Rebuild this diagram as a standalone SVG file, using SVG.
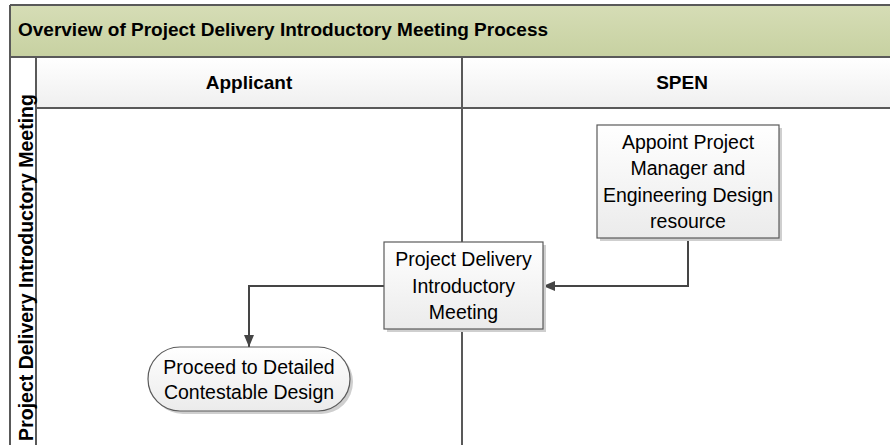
<svg xmlns="http://www.w3.org/2000/svg" width="890" height="445" viewBox="0 0 890 445">
<style>
.hdr{font-family:"Liberation Sans",Arial,sans-serif;font-weight:bold;fill:#000;}
.lbl{font-family:"Liberation Sans",Arial,sans-serif;font-size:19.5px;fill:#000;text-anchor:middle;}
.box{fill:url(#boxg);stroke:#5a5a5a;stroke-width:1.2;}
.shd{fill:#cfcfcf;}
.frame{stroke:#595959;stroke-width:2;fill:none;}
.conn{stroke:#454545;stroke-width:2;fill:none;}
</style>
<defs>
<linearGradient id="titleg" x1="0" y1="0" x2="0" y2="1">
<stop offset="0" stop-color="#d6ddb6"/>
<stop offset="1" stop-color="#c7d1a1"/>
</linearGradient>
<linearGradient id="headg" x1="0" y1="0" x2="0" y2="1">
<stop offset="0" stop-color="#ffffff"/>
<stop offset="1" stop-color="#efefef"/>
</linearGradient>
<linearGradient id="boxg" x1="0" y1="0" x2="0" y2="1">
<stop offset="0" stop-color="#ffffff"/>
<stop offset="1" stop-color="#ebebeb"/>
</linearGradient>
<marker id="arr" viewBox="0 0 12 10" refX="12" refY="5" markerWidth="12" markerHeight="10" markerUnits="userSpaceOnUse" orient="auto">
<path d="M0,0 L12,5 L0,10 Z" fill="#454545"/>
</marker>
</defs>

<g id="pool">
<rect x="0" y="0" width="890" height="445" fill="#ffffff"/>
<rect x="10" y="5" width="900" height="52" fill="url(#titleg)"/>
<rect x="36" y="57" width="870" height="51" fill="url(#headg)"/>
<rect x="10" y="57" width="26" height="400" fill="#ffffff"/>
<line class="frame" x1="10" y1="5" x2="900" y2="5"/>
<line class="frame" x1="10" y1="57" x2="900" y2="57"/>
<line class="frame" x1="36" y1="108" x2="900" y2="108" stroke="#6e6e6e"/>
<line class="frame" x1="10" y1="5" x2="10" y2="450"/>
<line class="frame" x1="36" y1="57" x2="36" y2="450" stroke="#6e6e6e"/>
<line class="frame" x1="462" y1="57" x2="462" y2="450"/>
<text class="hdr" x="18" y="36" font-size="19px">Overview of Project Delivery Introductory Meeting Process</text>
<text class="hdr" x="249" y="89" font-size="19px" text-anchor="middle">Applicant</text>
<text class="hdr" x="682" y="89" font-size="19px" text-anchor="middle">SPEN</text>
<text class="hdr" font-size="19.5px" text-anchor="middle" transform="translate(32.5,267.5) rotate(-90)">Project Delivery Introductory Meeting</text>
</g>

<g id="connectors">
<polyline class="conn" points="688,238 688,286 543,286" marker-end="url(#arr)"/>
<polyline class="conn" points="384,286 249,286 249,347" marker-end="url(#arr)"/>
</g>

<g id="appoint">
<rect class="shd" x="600" y="128" width="182" height="113"/>
<rect class="box" x="597" y="125" width="182" height="113"/>
<text class="lbl" x="688" y="149">Appoint Project</text>
<text class="lbl" x="688" y="175">Manager and</text>
<text class="lbl" x="688" y="202">Engineering Design</text>
<text class="lbl" x="688" y="228">resource</text>
</g>

<g id="pdim">
<rect class="shd" x="387" y="245" width="159" height="87"/>
<rect class="box" x="384" y="242" width="159" height="87"/>
<text class="lbl" x="463.5" y="266">Project Delivery</text>
<text class="lbl" x="463.5" y="293">Introductory</text>
<text class="lbl" x="463.5" y="319">Meeting</text>
</g>

<g id="proceed">
<rect class="shd" x="151" y="350" width="202" height="64" rx="32" ry="32"/>
<rect class="box" x="148" y="347" width="202" height="64" rx="32" ry="32"/>
<text class="lbl" x="249" y="374">Proceed to Detailed</text>
<text class="lbl" x="249" y="399">Contestable Design</text>
</g>
</svg>
